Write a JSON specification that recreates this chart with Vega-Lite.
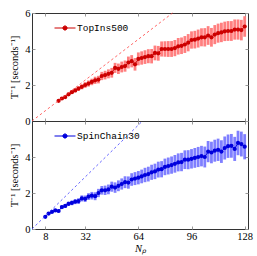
{
"$schema": "https://vega.github.io/schema/vega-lite/v6.json",
"padding": {"left": 9, "top": 7, "right": 8, "bottom": 0},
"spacing": 0,
"bounds": "flush",
"config": {
  "view": {"stroke": "#333", "strokeWidth": 1},
  "concat": {"spacing": 0},
  "axis": {"domain": false, "grid": false, "tickColor": "#999", "tickSize": -3, "tickWidth": 1, "labelFont": "Liberation Serif", "labelFontSize": 10.5, "labelColor": "#000", "titleFont": "Liberation Serif", "titleFontSize": 10.5, "titleFontWeight": "normal", "titleColor": "#000", "minExtent": 0}
},
"resolve": {"scale": {"color": "independent"}, "legend": {"color": "independent"}},
"vconcat": [
{
  "width": 216, "height": 108,
  "data": {"values": [
{"N":16,"T":1.12,"e":0.06},{"N":18,"T":1.25,"e":0.07},{"N":20,"T":1.33,"e":0.08},{"N":22,"T":1.48,"e":0.09},{"N":24,"T":1.60,"e":0.10},{"N":26,"T":1.70,"e":0.11},{"N":28,"T":1.80,"e":0.13},{"N":30,"T":1.90,"e":0.14},{"N":32,"T":2.00,"e":0.16},{"N":34,"T":2.08,"e":0.17},{"N":36,"T":2.17,"e":0.18},{"N":38,"T":2.26,"e":0.20},{"N":40,"T":2.30,"e":0.21},{"N":42,"T":2.50,"e":0.23},{"N":44,"T":2.55,"e":0.24},{"N":46,"T":2.62,"e":0.25},{"N":48,"T":2.68,"e":0.27},{"N":50,"T":2.95,"e":0.28},{"N":52,"T":2.90,"e":0.29},{"N":54,"T":3.00,"e":0.30},{"N":56,"T":3.05,"e":0.31},{"N":58,"T":3.25,"e":0.33},{"N":60,"T":3.32,"e":0.34},{"N":62,"T":3.15,"e":0.35},{"N":64,"T":3.45,"e":0.36},{"N":66,"T":3.50,"e":0.37},{"N":68,"T":3.55,"e":0.38},{"N":70,"T":3.60,"e":0.39},{"N":72,"T":3.60,"e":0.40},{"N":74,"T":3.78,"e":0.41},{"N":76,"T":3.76,"e":0.41},{"N":78,"T":4.00,"e":0.42},{"N":80,"T":4.00,"e":0.43},{"N":82,"T":4.00,"e":0.44},{"N":84,"T":4.00,"e":0.44},{"N":86,"T":4.05,"e":0.45},{"N":88,"T":4.15,"e":0.46},{"N":90,"T":4.18,"e":0.46},{"N":92,"T":4.25,"e":0.47},{"N":94,"T":4.35,"e":0.48},{"N":96,"T":4.50,"e":0.48},{"N":98,"T":4.52,"e":0.49},{"N":100,"T":4.58,"e":0.50},{"N":102,"T":4.65,"e":0.50},{"N":104,"T":4.65,"e":0.51},{"N":106,"T":4.75,"e":0.52},{"N":108,"T":4.65,"e":0.52},{"N":110,"T":4.80,"e":0.53},{"N":112,"T":4.88,"e":0.53},{"N":114,"T":4.92,"e":0.54},{"N":116,"T":4.98,"e":0.54},{"N":118,"T":5.00,"e":0.55},{"N":120,"T":5.00,"e":0.55},{"N":122,"T":5.08,"e":0.56},{"N":124,"T":5.08,"e":0.56},{"N":126,"T":5.05,"e":0.57},{"N":128,"T":5.25,"e":0.57}
  ]},
  "resolve": {"axis": {"x": "independent", "y": "independent"}},
  "layer": [
    {"mark": {"type": "errorbar", "color": "#ff0000", "opacity": 0.5, "thickness": 2.8, "ticks": false},
     "encoding": {
       "x": {"field": "N", "type": "quantitative", "scale": {"domain": [0, 130], "nice": false, "zero": false}, "axis": {"orient": "bottom", "values": [8, 32, 64, 96, 128], "labels": false, "title": null, "maxExtent": 0}},
       "y": {"field": "T", "type": "quantitative", "scale": {"domain": [0, 6], "nice": false}, "axis": {"orient": "left", "values": [0, 2, 4, 6], "title": "T⁻¹ [seconds⁻¹]", "labelPadding": 5, "titlePadding": 5}},
       "yError": {"field": "e"}
     }},
    {"mark": {"type": "line", "strokeWidth": 1},
     "encoding": {
       "x": {"field": "N", "type": "quantitative", "axis": null},
       "y": {"field": "T", "type": "quantitative", "axis": null},
       "color": {"datum": "TopIns500", "scale": {"domain": ["TopIns500"], "range": ["#cc0000"]},
         "legend": {"orient": "none", "legendX": 22, "legendY": 4, "title": null, "padding": 0,
           "symbolType": "M-1,0L1,0M0.2,0A0.2,0.2,0,1,1,-0.2,0A0.2,0.2,0,1,1,0.2,0", "symbolSize": 441, "symbolStrokeWidth": 1,
           "labelFont": "Liberation Mono", "labelFontSize": 9.5, "labelColor": "#000", "labelOffset": 1,
           "encode": {"symbols": {"update": {"fill": {"value": "#cc0000"}, "stroke": {"value": "#cc0000"}, "opacity": {"value": 1}}}}}}
     }},
    {"mark": {"type": "point", "filled": true, "size": 18, "color": "#cc0000", "opacity": 1},
     "encoding": {
       "x": {"field": "N", "type": "quantitative", "axis": null},
       "y": {"field": "T", "type": "quantitative", "axis": null}
     }},
    {"data": {"values": [{"N": 0, "T": 0}, {"N": 84.6, "T": 6}]},
     "mark": {"type": "line", "color": "#ff4040", "strokeDash": [2.5, 2.5], "strokeWidth": 0.8},
     "encoding": {
       "x": {"field": "N", "type": "quantitative", "axis": {"orient": "top", "values": [8, 32, 64, 96, 128], "labels": false, "title": null, "maxExtent": 0}},
       "y": {"field": "T", "type": "quantitative", "axis": {"orient": "right", "values": [0, 2, 4, 6], "labels": false, "title": null, "maxExtent": 0}}
     }}
  ]
},
{
  "width": 216, "height": 108,
  "data": {"values": [
{"N":8,"T":0.68,"e":0.04},{"N":10,"T":0.86,"e":0.05},{"N":12,"T":0.95,"e":0.06},{"N":14,"T":1.03,"e":0.07},{"N":16,"T":1.00,"e":0.08},{"N":18,"T":1.22,"e":0.10},{"N":20,"T":1.28,"e":0.11},{"N":22,"T":1.40,"e":0.12},{"N":24,"T":1.45,"e":0.13},{"N":26,"T":1.52,"e":0.14},{"N":28,"T":1.55,"e":0.16},{"N":30,"T":1.70,"e":0.17},{"N":32,"T":1.68,"e":0.18},{"N":34,"T":1.80,"e":0.19},{"N":36,"T":1.85,"e":0.21},{"N":38,"T":1.82,"e":0.22},{"N":40,"T":2.00,"e":0.23},{"N":42,"T":2.15,"e":0.24},{"N":44,"T":2.15,"e":0.26},{"N":46,"T":2.20,"e":0.27},{"N":48,"T":2.35,"e":0.28},{"N":50,"T":2.30,"e":0.29},{"N":52,"T":2.40,"e":0.30},{"N":54,"T":2.50,"e":0.31},{"N":56,"T":2.60,"e":0.33},{"N":58,"T":2.58,"e":0.34},{"N":60,"T":2.75,"e":0.35},{"N":62,"T":2.80,"e":0.36},{"N":64,"T":2.85,"e":0.37},{"N":66,"T":2.92,"e":0.38},{"N":68,"T":3.00,"e":0.40},{"N":70,"T":3.05,"e":0.41},{"N":72,"T":3.15,"e":0.42},{"N":74,"T":3.20,"e":0.43},{"N":76,"T":3.30,"e":0.44},{"N":78,"T":3.32,"e":0.45},{"N":80,"T":3.45,"e":0.46},{"N":82,"T":3.50,"e":0.47},{"N":84,"T":3.55,"e":0.48},{"N":86,"T":3.62,"e":0.49},{"N":88,"T":3.70,"e":0.50},{"N":90,"T":3.72,"e":0.51},{"N":92,"T":3.85,"e":0.52},{"N":94,"T":3.85,"e":0.53},{"N":96,"T":3.90,"e":0.54},{"N":98,"T":3.95,"e":0.55},{"N":100,"T":4.00,"e":0.56},{"N":102,"T":4.05,"e":0.57},{"N":104,"T":4.00,"e":0.58},{"N":106,"T":4.30,"e":0.59},{"N":108,"T":4.25,"e":0.60},{"N":110,"T":4.35,"e":0.61},{"N":112,"T":4.40,"e":0.62},{"N":114,"T":4.30,"e":0.63},{"N":116,"T":4.50,"e":0.64},{"N":118,"T":4.60,"e":0.65},{"N":120,"T":4.62,"e":0.66},{"N":122,"T":4.45,"e":0.67},{"N":124,"T":4.78,"e":0.68},{"N":126,"T":4.72,"e":0.69},{"N":128,"T":4.57,"e":0.70}
  ]},
  "resolve": {"axis": {"x": "independent", "y": "independent"}},
  "layer": [
    {"mark": {"type": "errorbar", "color": "#0000ff", "opacity": 0.5, "thickness": 2.8, "ticks": false},
     "encoding": {
       "x": {"field": "N", "type": "quantitative", "scale": {"domain": [0, 130], "nice": false, "zero": false}, "axis": {"orient": "bottom", "values": [8, 32, 64, 96, 128], "title": "Nₚ", "titleFontStyle": "italic", "labelPadding": 5, "titlePadding": 2}},
       "y": {"field": "T", "type": "quantitative", "scale": {"domain": [0, 6], "nice": false}, "axis": {"orient": "left", "values": [0, 2, 4], "title": "T⁻¹ [seconds⁻¹]", "labelPadding": 5, "titlePadding": 5}},
       "yError": {"field": "e"}
     }},
    {"mark": {"type": "line", "strokeWidth": 1},
     "encoding": {
       "x": {"field": "N", "type": "quantitative", "axis": null},
       "y": {"field": "T", "type": "quantitative", "axis": null},
       "color": {"datum": "SpinChain30", "scale": {"domain": ["SpinChain30"], "range": ["#0000dd"]},
         "legend": {"orient": "none", "legendX": 22, "legendY": 4, "title": null, "padding": 0,
           "symbolType": "M-1,0L1,0M0.2,0A0.2,0.2,0,1,1,-0.2,0A0.2,0.2,0,1,1,0.2,0", "symbolSize": 441, "symbolStrokeWidth": 1,
           "labelFont": "Liberation Mono", "labelFontSize": 9.5, "labelColor": "#000", "labelOffset": 1,
           "encode": {"symbols": {"update": {"fill": {"value": "#0000dd"}, "stroke": {"value": "#0000dd"}, "opacity": {"value": 1}}}}}}
     }},
    {"mark": {"type": "point", "filled": true, "size": 18, "color": "#0000dd", "opacity": 1},
     "encoding": {
       "x": {"field": "N", "type": "quantitative", "axis": null},
       "y": {"field": "T", "type": "quantitative", "axis": null}
     }},
    {"data": {"values": [{"N": 0, "T": 0}, {"N": 66.5, "T": 6}]},
     "mark": {"type": "line", "color": "#4040ff", "strokeDash": [2.5, 2.5], "strokeWidth": 0.8},
     "encoding": {
       "x": {"field": "N", "type": "quantitative", "axis": {"orient": "top", "values": [8, 32, 64, 96, 128], "labels": false, "title": null, "maxExtent": 0}},
       "y": {"field": "T", "type": "quantitative", "axis": {"orient": "right", "values": [0, 2, 4, 6], "labels": false, "title": null, "maxExtent": 0}}
     }}
  ]
}
]
}
